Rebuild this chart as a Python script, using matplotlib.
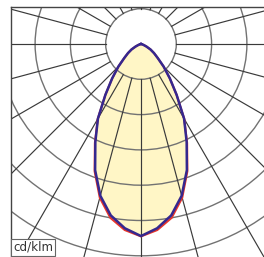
import numpy as np
import matplotlib.pyplot as plt
from matplotlib.patches import Circle

# light distribution, gamma angle from nadir (deg) and intensity (cd/klm)
gamma = np.arange(0, 95, 5)
c0_c180 = [544, 524, 493, 445, 380, 306, 244, 176, 127, 91, 62, 45, 31, 17, 8, 3, 0, 0, 0]
c90_c270 = [545, 529, 500, 451, 384, 309, 245, 176, 127, 91, 62, 45, 31, 17, 8, 3, 0, 0, 0]
rings = [100, 200, 300, 400, 500, 600, 700, 800]
spokes = np.arange(0, 360, 15)
unit_label = 'cd/klm'


def curve_xy(vals):
    vals = np.asarray(vals, dtype=float)
    g = np.radians(np.concatenate([-gamma[::-1], gamma[1:]]))
    v = np.concatenate([vals[::-1], vals[1:]])
    return v * np.sin(g), -v * np.cos(g)


s = 100 / 35.3  # cd/klm per pixel
fig = plt.figure(figsize=(2.64, 2.57), dpi=100)
ax = fig.add_axes([11 / 264, 0, 253 / 264, 250 / 257])
ax.set_xlim(-130 * s, 123 * s)
ax.set_ylim(-213 * s, 37 * s)
ax.set_xticks([])
ax.set_yticks([])
for side in ['right', 'bottom']:
    ax.spines[side].set_visible(False)
for side in ['left', 'top']:
    ax.spines[side].set_color('#444444')
    ax.spines[side].set_linewidth(1.0)

# yellow fill
x0, y0 = curve_xy(c0_c180)
ax.fill(x0, y0, color='#fff6c6', lw=0, zorder=1)

# grid
for r in rings:
    ax.add_patch(Circle((0, 0), r, fill=False, ec='#727272', lw=1.0, zorder=2))
for a in spokes:
    t = np.radians(a)
    ax.plot([rings[0] * np.sin(t), 1000 * np.sin(t)],
            [-rings[0] * np.cos(t), -1000 * np.cos(t)],
            color='#3a3a3a', lw=0.85, zorder=2)

# curves
x1, y1 = curve_xy(c90_c270)
ax.plot(x1, y1, color='#e8352a', lw=1.5, zorder=3)
ax.plot(x0, y0, color='#35288f', lw=1.8, zorder=4)

ax.text(0.008, 0.012, unit_label, transform=ax.transAxes, fontsize=8.6,
        color='#333333', ha='left', va='bottom', zorder=5,
        bbox=dict(boxstyle='square,pad=0.2', fc='white', ec='#666666', lw=0.8))

fig.savefig('out.png', dpi=100)
